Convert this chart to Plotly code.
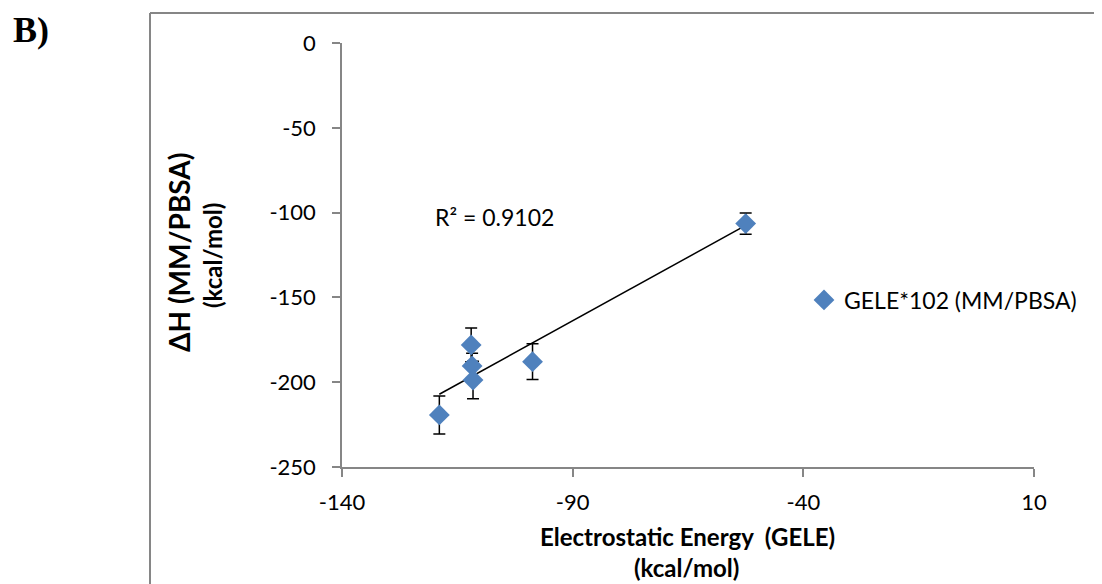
import numpy as np
import plotly.graph_objects as go

# Data
gele = [-118.9, -112.0, -111.8, -111.6, -98.7, -52.5]
dh = [-219.3, -178.0, -190.4, -198.7, -187.9, -106.5]
dh_err = [11.2, 10.0, 7.5, 11.1, 10.5, 6.2]
x_ticks = [-140, -90, -40, 10]
y_ticks = [0, -50, -100, -150, -200, -250]
series_name = "GELE*102 (MM/PBSA)"
r2_label = "R² = 0.9102"

# page has an 8px body margin; figure fills the rest of the window
OFF = 8
W, H = 1102 - OFF, 584 - OFF
L, R, T, B = 342 - OFF, 68, 43 - OFF, 117
pw, ph = W - L - R, H - T - B

def px(xp):  # page pixel -> paper x
    return (xp - OFF - L) / pw

def py(yp):  # page pixel -> paper y
    return (H - B - (yp - OFF)) / ph

FONT = "Lato"
blue = "#4F81BD"
axis_gray = "#868686"

fig = go.Figure()

# trendline from linear fit
coef = np.polyfit(gele, dh, 1)
xl = np.array([min(gele), max(gele)])
fig.add_trace(go.Scatter(x=xl, y=np.polyval(coef, xl), mode="lines",
                         line=dict(color="black", width=1.5),
                         showlegend=False, hoverinfo="skip"))

fig.add_trace(go.Scatter(
    x=gele, y=dh, mode="markers", name=series_name,
    marker=dict(symbol="diamond", size=16, color=blue),
    error_y=dict(type="data", array=dh_err, visible=True,
                 color="black", thickness=1.5, width=6),
))

fig.update_xaxes(range=[-140, 10], tickvals=x_ticks,
                 ticktext=[str(v) for v in x_ticks], showgrid=False,
                 zeroline=False, showline=True, linecolor=axis_gray,
                 linewidth=1.5, ticks="outside", ticklen=8,
                 tickcolor=axis_gray, tickwidth=1.5, ticklabelstandoff=7,
                 tickfont=dict(family=FONT, size=22, color="black"))
fig.update_yaxes(range=[-250, 0], tickvals=y_ticks,
                 ticktext=[str(v) for v in y_ticks], showgrid=False,
                 zeroline=False, showline=True, linecolor=axis_gray,
                 linewidth=1.5, ticks="outside", ticklen=8,
                 tickcolor=axis_gray, tickwidth=1.5, ticklabelstandoff=12,
                 tickfont=dict(family=FONT, size=22, color="black"))

annotations = [
    dict(text="<b>Electrostatic Energy  (GELE)</b>", x=px(687), y=py(536),
         xref="paper", yref="paper", showarrow=False,
         font=dict(family=FONT, size=24, color="black"),
         xanchor="center", yanchor="middle"),
    dict(text="<b>(kcal/mol)</b>", x=px(686), y=py(567),
         xref="paper", yref="paper", showarrow=False,
         font=dict(family=FONT, size=24, color="black"),
         xanchor="center", yanchor="middle"),
    dict(text="<b>ΔH (MM/PBSA)</b>", x=px(179), y=py(253),
         xref="paper", yref="paper", showarrow=False, textangle=-90,
         font=dict(family=FONT, size=28, color="black"),
         xanchor="center", yanchor="middle"),
    dict(text="<b>(kcal/mol)</b>", x=px(212), y=py(256),
         xref="paper", yref="paper", showarrow=False, textangle=-90,
         font=dict(family=FONT, size=24, color="black"),
         xanchor="center", yanchor="middle"),
    dict(text=r2_label, x=px(433), y=py(217),
         xref="paper", yref="paper", showarrow=False,
         font=dict(family=FONT, size=23, color="black"),
         xanchor="left", yanchor="middle"),
    dict(text="<b>B)</b>", x=px(11), y=py(30),
         xref="paper", yref="paper", showarrow=False,
         font=dict(family="Liberation Serif", size=36, color="black"),
         xanchor="left", yanchor="middle"),
]

shapes = [
    dict(type="line", xref="paper", yref="paper",
         x0=px(150), x1=px(1110), y0=py(13), y1=py(13),
         line=dict(color=axis_gray, width=2)),
    dict(type="line", xref="paper", yref="paper",
         x0=px(150), x1=px(150), y0=py(13), y1=py(600),
         line=dict(color=axis_gray, width=2)),
]

fig.update_layout(
    width=W, height=H,
    margin=dict(l=L, r=R, t=T, b=B),
    paper_bgcolor="white", plot_bgcolor="white",
    showlegend=True,
    legend=dict(x=px(804), y=py(300), xanchor="left", yanchor="middle",
                font=dict(family=FONT, size=23, color="black"),
                bgcolor="rgba(0,0,0,0)", itemwidth=30),
    annotations=annotations, shapes=shapes,
)

fig.write_html("out.html")
